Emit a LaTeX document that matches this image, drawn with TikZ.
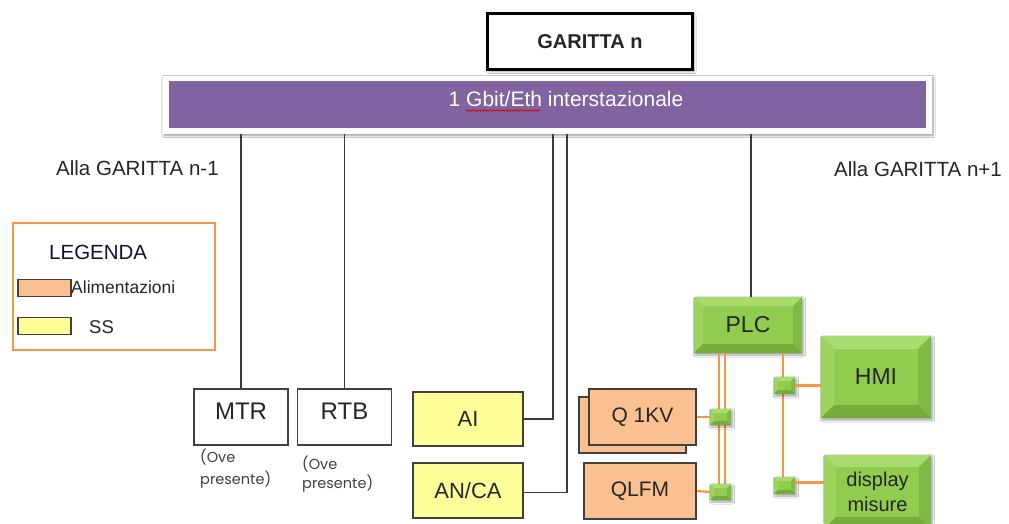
\documentclass[tikz,border=0pt]{standalone}
\usepackage{fontspec}
\setmainfont{Liberation Sans}
\newfontfamily\ovefont{Poppins}
\usetikzlibrary{shadows.blur,decorations.pathmorphing}
\definecolor{purp}{HTML}{8064A2}
\definecolor{orl}{HTML}{F79646}
\definecolor{orfill}{HTML}{FAC090}
\definecolor{yfill}{HTML}{FFFF99}
\definecolor{dark}{HTML}{404040}
\definecolor{txt}{HTML}{262626}
\definecolor{grM}{HTML}{90CD4E}
\definecolor{grL}{HTML}{A9DC70}
\definecolor{grLL}{HTML}{9CD45E}
\definecolor{grD}{HTML}{7FBA44}
\definecolor{grDD}{HTML}{74AD3C}
\tikzset{
  fs/.style={font=\fontsize{#1}{#1}\selectfont},
  bevel/.style={fill=grM, inner sep=0pt, text=txt,
    path picture={
      \fill[grL] (path picture bounding box.north west) -- (path picture bounding box.north east)
        -- ([shift={(-#1,-#1)}]path picture bounding box.north east)
        -- ([shift={(#1,-#1)}]path picture bounding box.north west) -- cycle;
      \fill[grLL] (path picture bounding box.north west) -- (path picture bounding box.south west)
        -- ([shift={(#1,#1)}]path picture bounding box.south west)
        -- ([shift={(#1,-#1)}]path picture bounding box.north west) -- cycle;
      \fill[grD] (path picture bounding box.north east) -- (path picture bounding box.south east)
        -- ([shift={(-#1,#1)}]path picture bounding box.south east)
        -- ([shift={(-#1,-#1)}]path picture bounding box.north east) -- cycle;
      \fill[grDD] (path picture bounding box.south west) -- (path picture bounding box.south east)
        -- ([shift={(-#1,#1)}]path picture bounding box.south east)
        -- ([shift={(#1,#1)}]path picture bounding box.south west) -- cycle;
    }},
  gshadow/.style={blur shadow={shadow xshift=1.5pt, shadow yshift=-2pt, shadow blur steps=6, shadow opacity=35}},
  wbox/.style={draw=dark, line width=1.6pt, fill=white, inner xsep=0pt, inner ysep=0pt, text=txt},
  ybox/.style={draw=dark, line width=1.6pt, fill=yfill, inner sep=0pt, text=txt},
  obox/.style={draw=dark, line width=1.6pt, fill=orfill, inner sep=0pt, text=txt},
  bline/.style={draw=dark!90!black, line width=1.5pt},
  oline/.style={draw=orl, line width=2.2pt},
}
\begin{document}
\begin{tikzpicture}[x=1pt,y=-1pt]
\useasboundingbox[fill=white] (0,0) rectangle (1009,523);

% top box
\node[draw=black, line width=2.4pt, fill=white, minimum width=205pt, minimum height=56pt, inner sep=0pt,
      font=\bfseries\fontsize{20}{22}\selectfont, text=txt, gshadow] (top) at (590,41.5) {GARITTA n};

% bar
\node[fill=white, minimum width=769pt, minimum height=58pt, inner sep=0pt,
      blur shadow={shadow xshift=1pt, shadow yshift=-1.5pt, shadow blur steps=6, shadow opacity=40}] (barrim) at (547.5,105) {};
\node[fill=purp, minimum width=757pt, minimum height=47pt, inner sep=0pt] (bar) at (547.5,104.5) {};
\node[anchor=base, inner sep=0pt, text=white, fs=21] (bart) at (566,106.5) {1 Gbit/Eth interstazionale};
\coordinate (sqa) at (466,110.5);
\coordinate (sqb) at (540,110.5);
\draw[red!85!black, line width=0.7pt, decorate, decoration={snake, amplitude=0.8pt, segment length=3pt}] (sqa) -- (sqb);

% side labels
\node[anchor=base west, fs=20.5, text=txt, inner sep=0pt] (alla1) at (56,175) {Alla GARITTA n-1};
\node[anchor=base west, fs=20.5, text=txt, inner sep=0pt] (alla2) at (834,176) {Alla GARITTA n+1};

% legend
\node[draw=orl, line width=2.2pt, minimum width=202pt, minimum height=127pt, inner sep=0pt] (leg) at (114,286.5) {};
\node[anchor=base west, fs=20.5, text=txt!70!blue!60!black, inner sep=0pt] (legt) at (49,259) {LEGENDA};
\node[obox, line width=1.3pt, minimum width=53pt, minimum height=17pt] (swo) at (44.5,288) {};
\node[anchor=base west, fs=17.5, text=txt, inner sep=0pt] (swot) at (71,293) {Alimentazioni};
\node[ybox, line width=1.3pt, minimum width=53pt, minimum height=17pt] (swy) at (44.5,326) {};
\node[anchor=base west, fs=18.5, text=txt, inner sep=0pt] (swyt) at (89,333) {SS};

% MTR / RTB
\node[wbox, minimum width=94pt, text height=30pt, text depth=26pt, fs=24] (mtr) at (241,417) {MTR};
\node[wbox, minimum width=94pt, text height=30pt, text depth=26pt, fs=24] (rtb) at (344.5,417) {RTB};
\node[anchor=north west, align=left, inner sep=0pt, text=dark, font=\ovefont\fontsize{14.5}{22}\selectfont] (ove1) at (200,449) {(Ove\\presente)};
\node[anchor=north west, align=left, inner sep=0pt, text=dark, font=\ovefont\fontsize{14.5}{19}\selectfont] (ove2) at (302,456) {(Ove\\presente)};

% AI / ANCA
\node[ybox, minimum width=110pt, minimum height=54pt, fs=22] (ai) at (468,419) {AI};
\node[ybox, minimum width=110pt, minimum height=55pt, fs=22] (anca) at (468,490.5) {AN/CA};

% Q 1KV / QLFM
\node[obox, minimum width=107pt, minimum height=56pt] (q1b) at (632.5,425) {};
\node[obox, minimum width=107pt, minimum height=56pt, fs=21] (q1) at (642.5,417) {Q 1KV};
\node[obox, minimum width=112pt, minimum height=56pt, fs=21] (qlfm) at (640,491) {QLFM};

% green boxes
\node[bevel=9pt, gshadow, minimum width=108pt, minimum height=56pt, fs=23] (plc) at (748,325) {PLC};
\node[bevel=13pt, gshadow, minimum width=110pt, minimum height=82pt, fs=23] (hmi) at (876,377) {HMI};
\node[bevel=12pt, gshadow, minimum width=107pt, minimum height=74pt, align=center, font=\fontsize{20}{25}\selectfont] (disp) at (877.5,492) {display\\misure};

% black connectors
\draw[bline] (mtr.north) -- (mtr.north |- barrim.south);
\draw[bline] (rtb.north) -- (rtb.north |- barrim.south);
\coordinate (aiup) at (553,134);
\coordinate (ancaup) at (567,134);
\coordinate (plcup) at (751,134);
\draw[bline] (ai.east) -| (aiup);
\draw[bline] ([yshift=-2pt]anca.east) -| (ancaup);
\draw[bline] ([xshift=3pt]plc.north) -- (plcup);

% orange bus
\coordinate (bl1) at (719,500);
\coordinate (bl2) at (725,500);
\coordinate (br) at (783,487);
\draw[oline] ([xshift=-29pt]plc.south) -- (bl1);
\draw[oline] ([xshift=-23pt]plc.south) -- (bl2);
\draw[oline] ([xshift=35pt]plc.south) -- (br);

\node[bevel=4pt, gshadow, minimum width=21pt, minimum height=16pt] (s1) at (720.5,417) {};
\node[bevel=4pt, gshadow, minimum width=21pt, minimum height=16pt] (s2) at (720.5,492) {};
\node[bevel=4pt, gshadow, minimum width=21pt, minimum height=17pt] (s3) at (784.5,385.5) {};
\node[bevel=4pt, gshadow, minimum width=21pt, minimum height=17pt] (s4) at (784.5,485.5) {};

\draw[oline] (q1.east) -- (s1.west);
\draw[oline] (qlfm.east) -- (s2.west);
\draw[oline] (s3.east) -- (s3.east -| hmi.west);
\draw[oline] ([yshift=3pt]s4.east) -- ([yshift=3pt]s4.east -| disp.west);
\end{tikzpicture}
\end{document}
